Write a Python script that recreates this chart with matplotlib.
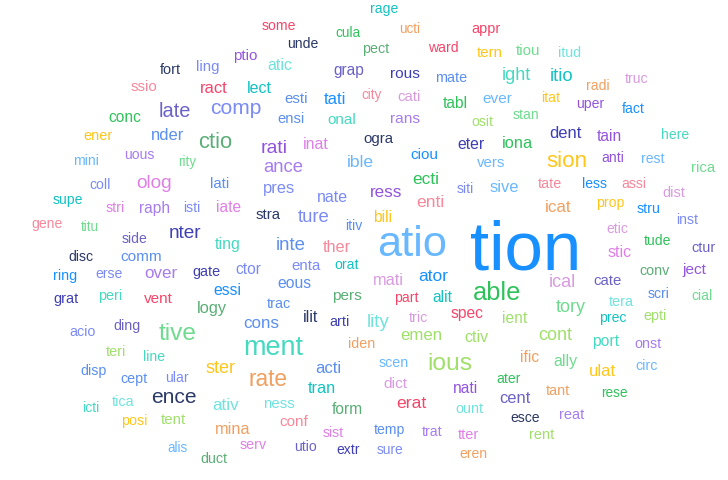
import matplotlib
matplotlib.use("Agg")
import matplotlib.pyplot as plt

plt.rcParams['font.family'] = ['Liberation Sans', 'DejaVu Sans']

# colour palette keys
palette = {
    "B": "#1890ff", "LB": "#69b8ff", "CB": "#5b8ff0", "LV": "#7b8bf5",
    "SL": "#6b62c8", "DS": "#3f3fb5", "NV": "#2b3966", "PU": "#9254de",
    "MP": "#a67cf0", "OR": "#e07fe6", "LO": "#d99be0", "PK": "#f7889b",
    "RD": "#f5466a", "OG": "#f0a060", "GD": "#ffc61a", "YG": "#a0e06a",
    "LG": "#6fdb8f", "GR": "#2fc25b", "SG": "#5aae76", "TL": "#13c2c2",
    "TQ": "#45d9c0", "LT": "#6fe3dc",
}

# ---- region A (upper left) ----
words_a = "ptio fort ling ssio ract late comp conc ener nder ctio mini uous rity olog lati coll supe stri raph isti iate gene titu side nter ting".split()
size_a = [15, 14.5, 15, 15, 16.5, 20, 21, 15.5, 14.5, 16.5,
          22, 14, 14, 13.5, 19, 15, 14, 14, 14.3, 15.5,
          14, 15.5, 14, 13.5, 14, 19, 16]
color_a = "PU NV LV PK RD SL LV GR GD CB SG LB MP LG OR CB LV TL OR MP LV OR PK LG SL DS TQ".split()
x_a = [245, 170.5, 207.5, 143.5, 213.5, 175, 235.5, 124.5, 97.5, 167.5,
       215, 86, 139, 187, 154.5, 219.5, 100.5, 68, 115.5, 154.5,
       191.5, 228.5, 47.5, 90, 135, 185.5, 228]
y_a = [60, 74, 70.7, 90.7, 93, 117, 114, 121.7, 140, 140,
       147.7, 165, 158.7, 166, 188, 187.7, 189, 204, 211.7, 213,
       211.7, 212, 227.7, 230.7, 242.7, 237.7, 249]

# ---- region B (upper middle) ----
words_b = ("rage some cula ucti appr unde pect ward tern atic "
           "grap rous mate lect esti tati city cati tabl ever "
           "ensi onal rans osit rati inat ogra eter ciou ance "
           "ible vers ecti pres siti nate ress enti stra ture itiv bili").split()
size_b = [14, 14, 13.6, 13.5, 14.5, 14, 14.3, 14, 15, 16,
          15.5, 15.4, 14.4, 16, 15, 16.5, 13.5, 15, 15.5, 15.4,
          14.7, 15.3, 15.4, 14, 19.4, 16, 15, 15.7, 15.3, 18.5,
          17.5, 15, 17.4, 16.5, 14, 16, 17, 17.5, 15, 18.5, 14, 15.5]
color_b = ("TL RD GR OG RD NV SG RD GD LT "
           "SL DS CB TL CB B PK LO GR LB "
           "CB TQ MP YG PU OR NV DS B MP "
           "LB LB GR LV LV LV PU PK NV LV CB GD").split()
x_b = [384, 279, 348.5, 409.5, 485.5, 302.5, 375.5, 443, 490, 279.5,
       348.5, 405, 451, 259.5, 296.5, 335, 372, 409.5, 455.5, 497,
       290.5, 341.5, 405, 482, 274.5, 316, 378, 471.5, 424, 283,
       360.5, 491, 425.5, 279, 465.5, 332.5, 386, 430, 268.5, 314, 353.5, 382.5]
y_b = [13.3, 30, 36.7, 32.7, 32.7, 48.3, 53.3, 51.7, 56.7, 70,
       75, 78.3, 81.7, 93.3, 103.3, 104, 99, 101, 108.3, 103.3,
       123.3, 124.3, 123.3, 126, 152.7, 149.3, 142.7, 149.3, 159.3, 172.3,
       166.7, 166.7, 184, 192.7, 192.7, 202.3, 197.3, 206.7, 219.3, 222.3, 230, 221.7]

# ---- region C (upper right) ----
words_c = ("tiou itud ight itio truc radi itat uper fact stan "
           "dent tain here iona sion anti rest rica sive tate "
           "less assi dist icat prop stru inst etic tude").split()
size_c = [15, 14.3, 18, 18.7, 14, 14, 14, 14, 14, 14,
          16.5, 15.5, 14, 16.4, 22.4, 14, 14, 15, 16.5, 14.4,
          14, 14, 14.5, 17, 14, 14.3, 14, 14, 14]
color_c = ("LG LT TQ TL LO OG GD PU B LG "
           "DS PU TQ GR GD PU LB LG LB PK "
           "B PK LO OG GD B LV LO GR").split()
x_c = [528, 569.5, 516.5, 562, 636.5, 597.5, 550.5, 590, 633.5, 526.5,
       565, 609.5, 675, 517.5, 566.5, 612.5, 653, 703, 504.5, 550,
       594.5, 633.5, 673.5, 558, 610, 648, 687, 617, 657.5]
y_c = [55, 56.7, 80, 81, 83.3, 90, 101.7, 108.3, 113.3, 119.3,
       138.3, 140.7, 139.3, 148.3, 167.3, 161.7, 163.3, 171.7, 191.7, 187.7,
       187.7, 187.7, 197.3, 211.7, 206.7, 213.3, 224, 233.3, 245]

# ---- region D (lower left) ----
words_d = ("disc comm ring erse over gate ctor grat peri vent "
           "essi logy cons acio ding tive ment teri line ster "
           "disp cept ular ence icti tica ativ posi tent mina "
           "alis serv duct").split()
size_d = [14, 15.4, 14.4, 14, 17, 14.4, 15.6, 14.5, 14.4, 15.3,
          15.7, 16.4, 17, 14.2, 14.3, 24.4, 27, 14.4, 14, 18,
          14.2, 14.3, 14, 21, 14, 14.4, 17, 14.2, 15, 16.2,
          13.5, 14.3, 14.3]
color_d = ("NV CB B LV MP DS LV DS TQ RD "
           "B SG CB LV SL LG TQ YG TQ GD "
           "CB CB LV NV TQ LT LT GD YG OG "
           "LB OR SG").split()
x_d = [80.5, 141, 65, 109.5, 160.5, 206, 248, 65.5, 110, 158.5,
       227, 212, 261, 83, 127.5, 178, 273, 116, 154, 221,
       94, 133.5, 176.5, 174, 90.5, 123, 225.5, 134, 173.5, 232.5,
       178, 253.5, 213.5]
y_d = [261, 261, 280, 278.3, 277.7, 275.7, 274.3, 303.3, 300, 303.3,
       295, 313.3, 327.7, 335.7, 330, 340, 355, 355.7, 360.7, 373.3,
       375, 383.3, 381.7, 402.7, 411.7, 405.7, 410, 425, 424.3, 434,
       451.7, 449, 463.3]

# ---- region E (centre / lower middle) ----
words_e = ("inte ther atio tion enta orat eous mati ator able "
           "trac pers part alit ilit arti lity tric spec emen "
           "ctiv iden ious scen acti rate tran dict nati ness "
           "form erat ount conf sist temp trat tter utio extr "
           "sure eren").split()
size_e = [18.6, 16.3, 43.4, 69, 15, 14, 15.7, 16.4, 17.4, 25.4,
          14.4, 15.4, 14, 15.6, 16, 14.4, 18.8, 14.2, 15.6, 16.8,
          16, 14.3, 24.5, 14.2, 16.7, 22.6, 16.3, 15.4, 15.5, 15,
          15.5, 17.5, 14.4, 15.3, 14, 14, 14, 14.5, 14, 14,
          13.7, 14]
color_e = ("CB PK LB B LV TL CB LO B GR "
           "CB SG RD TL NV DS LT LO RD YG "
           "YG OG YG LB CB OG TL LO PU LT "
           "SG RD LT PK OR CB MP OR SL DS "
           "LV OG").split()
x_e = [291, 337, 412, 525.5, 305.5, 347, 294, 388.5, 433, 497,
       279, 347, 406, 442, 310.5, 340, 378.5, 418.5, 467.5, 421,
       476, 361.5, 449.5, 394, 328, 268.5, 322, 395, 465.5, 279,
       347.5, 411, 469, 293.5, 333.5, 389.5, 432, 468.5, 305.5, 348.5,
       390, 473]
y_e = [250, 252.3, 256, 270, 270, 269.3, 288.3, 285, 280.7, 300,
       307.7, 300, 302.3, 301.7, 322.3, 325.7, 326.7, 322.3, 318.3, 340,
       341.7, 348.3, 370, 366.7, 373.3, 385.7, 393.3, 388.3, 393.3, 408.3,
       414, 407.7, 413.3, 426, 436.7, 434, 436, 439, 451, 454,
       454, 457.7]

# ---- region F (lower right) ----
words_f = ("ctur stic conv ject ical cate scri cial tera tory "
           "ient prec epti cont port onst ific ally ulat circ "
           "ater tant rese cent esce reat rent").split()
size_f = [14.4, 16, 14.2, 15.4, 18, 15, 14, 14, 14.4, 18,
          15.5, 14, 14.3, 18, 15.7, 14.3, 15.5, 16, 16.7, 14.2,
          14, 14.4, 13.7, 16.5, 14, 14.5, 14.5]
color_f = ("SL OR SG PU LO SL CB LG LT LG "
           "YG TL YG YG TQ MP OG LG GD LB "
           "GR OG GR SL NV MP YG").split()
x_f = [704, 620, 654, 694, 562, 608, 659, 701.5, 621.5, 571,
       514.5, 612.5, 655.5, 555, 605.5, 647.5, 529.5, 565, 602.5, 647,
       509, 558, 614, 514.5, 525, 571.5, 541.5]
y_f = [252.3, 256.7, 275, 274, 287.3, 285, 298.3, 300, 305.7, 311.7,
       323.3, 322.3, 320, 340, 346, 347.7, 361.7, 366, 376, 370,
       383.3, 395, 396.7, 402.7, 421.7, 419.3, 439.3]

words = words_a + words_b + words_c + words_d + words_e + words_f
sizes = size_a + size_b + size_c + size_d + size_e + size_f
colors = color_a + color_b + color_c + color_d + color_e + color_f
xs = x_a + x_b + x_c + x_d + x_e + x_f
ys = y_a + y_b + y_c + y_d + y_e + y_f

W, H, DPI = 728, 480, 100
fig = plt.figure(figsize=(W / DPI, H / DPI), dpi=DPI)
ax = fig.add_axes([0, 0, 1, 1])
ax.set_xlim(0, W)
ax.set_ylim(H, 0)
ax.axis('off')

for w, s, c, x, y in zip(words, sizes, colors, xs, ys):
    ax.text(x, y, w, fontsize=s * 72.0 / DPI, color=palette[c],
            ha='center', va='baseline')

fig.savefig('out.png', dpi=DPI, facecolor='white')
